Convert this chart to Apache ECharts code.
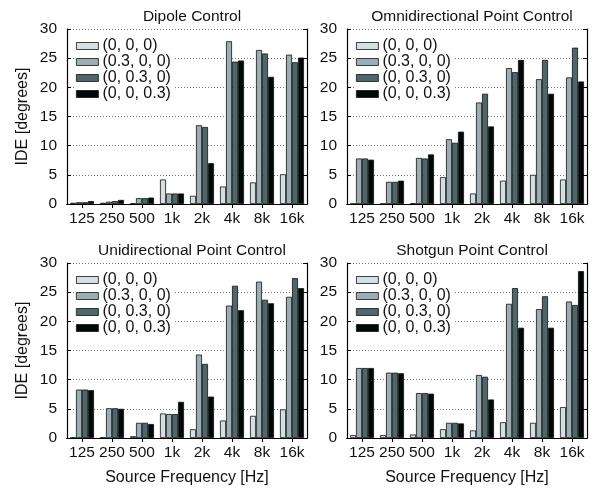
<!DOCTYPE html>
<html><head><meta charset="utf-8">
<script src="https://cdn.jsdelivr.net/npm/echarts@6/dist/echarts.min.js"></script>
<style>html,body{margin:0;padding:0;background:#fff}#c{width:601px;height:494px}</style>
</head><body><div id="c"></div>
<script>
var categories = ['125','250','500','1k','2k','4k','8k','16k'];
var seriesNames = ['(0, 0, 0)','(0.3, 0, 0)','(0, 0.3, 0)','(0, 0, 0.3)'];
var panelTitles = ['Dipole Control','Omnidirectional Point Control','Unidirectional Point Control','Shotgun Point Control'];
var yTicks = [0,5,10,15,20,25,30];

var dipole_000 = [0.2,0.2,0.1,4.2,1.4,3.0,3.7,5.1];
var dipole_x03 = [0.3,0.4,1.0,1.8,13.5,27.9,26.4,25.6];
var dipole_y03 = [0.3,0.5,1.0,1.8,13.2,24.4,25.8,24.3];
var dipole_z03 = [0.5,0.7,1.1,1.8,7.0,24.6,21.8,25.1];

var omni_000 = [0.05,0.05,0.1,4.6,1.8,4.0,5.0,4.2];
var omni_x03 = [7.8,3.8,7.9,11.1,17.4,23.3,21.4,21.7];
var omni_y03 = [7.8,3.8,7.8,10.5,18.9,22.6,24.7,26.8];
var omni_z03 = [7.6,4.0,8.5,12.4,13.3,24.7,18.9,21.0];

var uni_000 = [0.1,0.1,0.3,4.2,1.5,3.0,3.8,4.9];
var uni_x03 = [8.3,5.1,2.6,4.1,14.3,22.7,26.8,24.2];
var uni_y03 = [8.3,5.1,2.6,4.1,12.7,26.1,23.7,27.4];
var uni_z03 = [8.2,5.0,2.4,6.2,7.1,21.9,23.1,25.7];

var shot_000 = [0.5,0.5,0.6,1.5,1.3,2.7,2.6,5.3];
var shot_x03 = [12.0,11.2,7.7,2.6,10.8,23.0,22.1,23.4];
var shot_y03 = [12.0,11.2,7.7,2.6,10.5,25.7,24.3,22.8];
var shot_z03 = [12.0,11.1,7.6,2.5,6.6,18.9,18.9,28.6];

var panels = [
  [dipole_000, dipole_x03, dipole_y03, dipole_z03],
  [omni_000, omni_x03, omni_y03, omni_z03],
  [uni_000, uni_x03, uni_y03, uni_z03],
  [shot_000, shot_x03, shot_y03, shot_z03]
];

var colors = ['#d3dfe3','#9aaeb3','#4d676b','#000808'];
var font = 'Liberation Sans, Arial, Helvetica, sans-serif';
var gridPos = [
  {left:67, top:29}, {left:347, top:29},
  {left:67, top:263}, {left:347, top:263}
];
var W = 240, H = 175;

var option = {
  animation:false,
  backgroundColor:'#fff',
  textStyle:{fontFamily:font},
  title:[], grid:[], xAxis:[], yAxis:[], series:[], legend:[]
};

for (var p = 0; p < 4; p++) {
  var g = gridPos[p];
  var bottomRow = p >= 2;
  var leftCol = (p % 2) === 0;
  option.title.push({
    text: panelTitles[p], left: g.left + W/2, top: g.top - 25, textAlign:'center',
    textStyle:{fontFamily:font, fontSize:15.5, fontWeight:'normal', color:'#111'}
  });
  option.grid.push({left:g.left, top:g.top, width:W, height:H, containLabel:false});
  option.xAxis.push({
    type:'category', gridIndex:p, data:categories, position:'bottom',
    axisLine:{show:true, lineStyle:{color:'#000', width:1.2}},
    axisTick:{show:false},
    axisLabel:{fontFamily:font, fontSize:15.5, color:'#111', margin:7, interval:0},
    name: bottomRow ? 'Source Frequency [Hz]' : '',
    nameLocation:'middle', nameGap:32,
    nameTextStyle:{fontFamily:font, fontSize:16, color:'#111'}
  });
  option.xAxis.push({
    type:'category', gridIndex:p, data:categories, position:'top',
    axisLine:{show:true, lineStyle:{color:'#000', width:1.2}},
    axisTick:{show:true, inside:true, alignWithLabel:true, length:4, lineStyle:{color:'#000'}},
    axisLabel:{show:false}
  });
  option.yAxis.push({
    type:'value', gridIndex:p, min:0, max:30, interval:5, position:'left',
    axisLine:{show:true, lineStyle:{color:'#000', width:1.2}},
    axisTick:{show:true, inside:true, length:4, lineStyle:{color:'#000'}},
    axisLabel:{fontFamily:font, fontSize:15.5, color:'#111', margin:10},
    splitLine:{show:true, lineStyle:{color:'#777', type:[1,2], width:1}},
    name: leftCol ? 'IDE [degrees]' : '',
    nameLocation:'middle', nameGap:36,
    nameTextStyle:{fontFamily:font, fontSize:16, color:'#111'}
  });
  option.yAxis.push({
    type:'value', gridIndex:p, min:0, max:30, interval:5, position:'right',
    axisLine:{show:true, lineStyle:{color:'#000', width:1.2}},
    axisTick:{show:true, inside:true, length:4, lineStyle:{color:'#000'}},
    axisLabel:{show:false}, splitLine:{show:false}
  });
  for (var s = 0; s < 4; s++) {
    option.series.push({
      type:'bar', name: seriesNames[s],
      xAxisIndex: p*2, yAxisIndex: p*2,
      data: panels[p][s],
      barGap:'0%', barCategoryGap:'20%',
      itemStyle:{color:colors[s], borderColor:'#111', borderWidth:0.8}
    });
  }
  option.legend.push({
    data: seriesNames.map(function(n){return {name:n, icon:'rect'};}),
    orient:'vertical', left: g.left + 8, top: g.top + 8,
    itemWidth:22, itemHeight:7, itemGap:0, padding:[1,4,1,1],
    backgroundColor:'#fff', selectedMode:false,
    textStyle:{fontFamily:font, fontSize:16, lineHeight:14.6, color:'#111', padding:[0,0,0,-1]},
    itemStyle:{borderColor:'#111', borderWidth:0.8}
  });
}

var chart = echarts.init(document.getElementById('c'), null, {renderer:'canvas'});
chart.setOption(option);
</script></body></html>
